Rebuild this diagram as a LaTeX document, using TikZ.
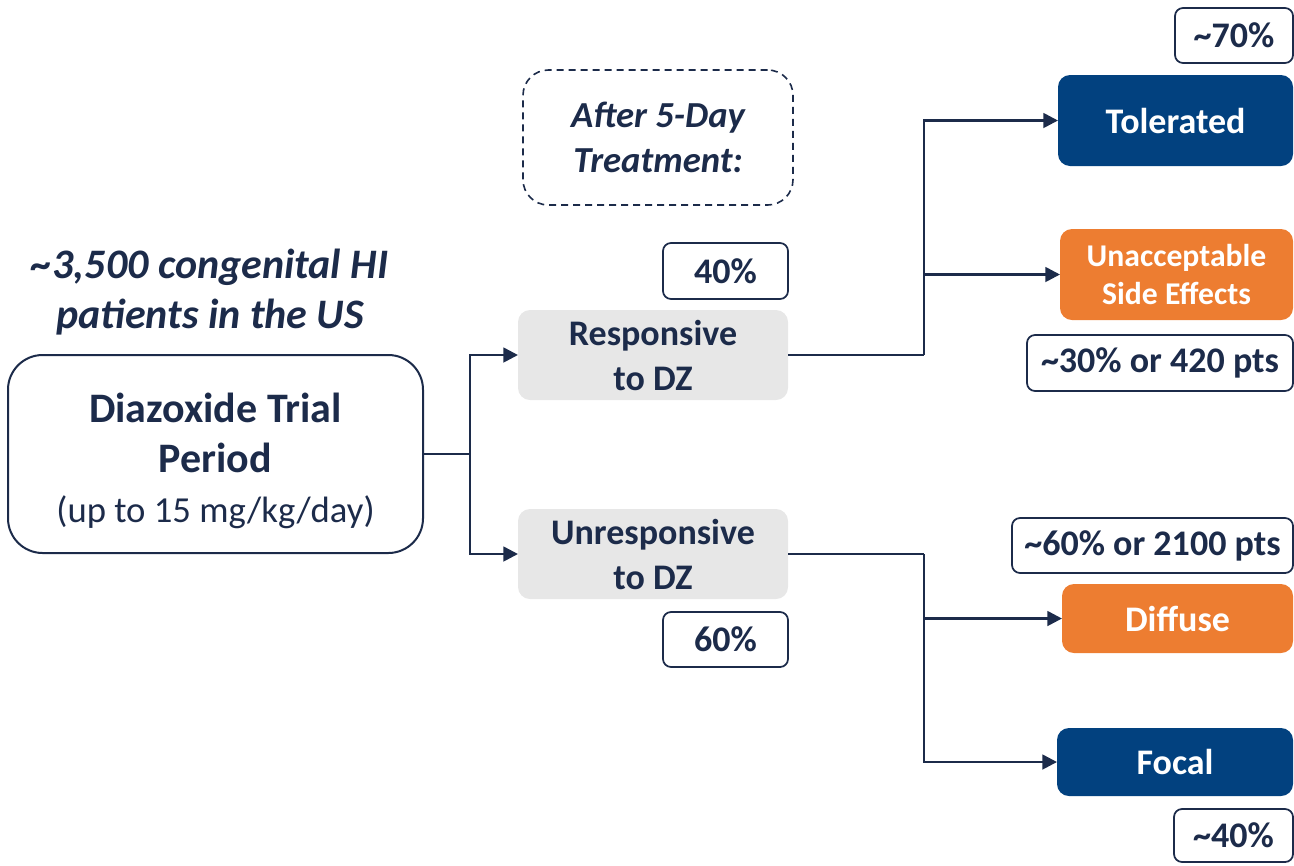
\documentclass[tikz,border=0pt]{standalone}
\usepackage{fontspec}
\setmainfont{Carlito}
\usetikzlibrary{arrows.meta}

\definecolor{ink}{HTML}{1C2B4A}
\definecolor{navybox}{HTML}{02417F}
\definecolor{orangebox}{HTML}{ED7D31}
\definecolor{greybox}{HTML}{E7E7E7}

\tikzset{
  every node/.style={inner sep=0pt, outer sep=0pt, align=center},
  pctbox/.style={draw=ink, line width=1.3pt, rounded corners=6pt, fill=white,
    text=ink, font=\fontsize{27}{32}\selectfont\bfseries},
  dzbox/.style={fill=greybox, rounded corners=9pt, text=ink,
    minimum width=202.5pt, minimum height=67.5pt,
    font=\fontsize{27}{33.75}\selectfont\bfseries},
  outcome/.style={rounded corners=9pt, text=white,
    font=\fontsize{27}{32}\selectfont\bfseries},
  link/.style={draw=ink, line width=2pt},
  arrowlink/.style={link, -{Triangle[length=11pt,width=11pt]}},
}

\begin{document}
\begin{tikzpicture}[x=0.75pt, y=-0.75pt]
\useasboundingbox (0,0) rectangle (1294,865);

% heading over the trial box
\node[text=ink, font=\fontsize{31.5}{37.5}\selectfont\bfseries\itshape]
  (heading) at (210,292) {\textasciitilde3,500 congenital HI\\patients in the US};

% trial period (the strut on the first line lowers the text block a little)
\node[draw=ink, line width=1.5pt, rounded corners=26pt, text=ink,
  minimum width=311.25pt, minimum height=148.5pt,
  font=\fontsize{31.5}{37}\selectfont\bfseries]
  (trial) at (215.5,454)
  {\rule{0pt}{33pt}Diazoxide Trial\\Period\\[1pt]{\mdseries\fontsize{27.5}{39}\selectfont (up to 15 mg/kg/day)}};

% note on timing
\node[draw=ink, line width=1.2pt, dash pattern=on 5.25pt off 3.75pt,
  rounded corners=19pt, text=ink,
  minimum width=202.5pt, minimum height=101.25pt,
  font=\fontsize{27.5}{33.75}\selectfont\bfseries\itshape]
  (note) at (658,137.5) {After 5-Day\\Treatment:};

% response to diazoxide
\node[dzbox] (resp) at (653,355) {Responsive\\to DZ};
\node[dzbox] (unresp) at (653,554) {Unresponsive\\to DZ};
\node[pctbox, minimum width=93.75pt, minimum height=42pt] (p40) at (725.5,271) {40\%};
\node[pctbox, minimum width=93.75pt, minimum height=41.25pt] (p60) at (725.5,639.5) {60\%};

% outcomes of responsive patients
\node[outcome, fill=navybox, minimum width=176.25pt, minimum height=68.25pt]
  (tol) at (1175.5,120.5) {Tolerated};
\node[pctbox, minimum width=88.5pt, minimum height=41.25pt] (p70) at (1234,35.5) {\textasciitilde70\%};
\node[outcome, fill=orangebox, minimum width=174.75pt, minimum height=68.25pt,
  font=\fontsize{23.75}{28.5}\selectfont\bfseries]
  (unacc) at (1176.5,274.5) {Unacceptable\\Side Effects};
\node[pctbox, minimum width=199.5pt, minimum height=42pt] (p30) at (1160,363) {\textasciitilde30\% or 420 pts};

% outcomes of unresponsive patients
\node[pctbox, minimum width=210.75pt, minimum height=41.25pt] (p60b) at (1152.5,545.5) {\textasciitilde60\% or 2100 pts};
\node[outcome, fill=orangebox, minimum width=173.25pt, minimum height=51.75pt]
  (diffuse) at (1177.5,618.5) {Diffuse};
\node[outcome, fill=navybox, minimum width=177pt, minimum height=51pt]
  (focal) at (1175,762) {Focal};
\node[pctbox, minimum width=89.25pt, minimum height=39.75pt] (p40b) at (1233.5,835.5) {\textasciitilde40\%};

% connectors
\coordinate (split) at (470,454);
\draw[link] (trial.east) -- (split);
\draw[arrowlink] (split) |- (resp.west);
\draw[arrowlink] (split) |- (unresp.west);

\coordinate (splitresp) at (924,355);
\draw[link] (resp.east) -- (splitresp);
\draw[arrowlink] (splitresp) |- (tol.west);
\draw[arrowlink] (splitresp) |- (unacc.west);

\coordinate (splitunresp) at (924,554);
\draw[link] (unresp.east) -- (splitunresp);
\draw[arrowlink] (splitunresp) |- (diffuse.west);
\draw[arrowlink] (splitunresp) |- (focal.west);
\end{tikzpicture}
\end{document}
